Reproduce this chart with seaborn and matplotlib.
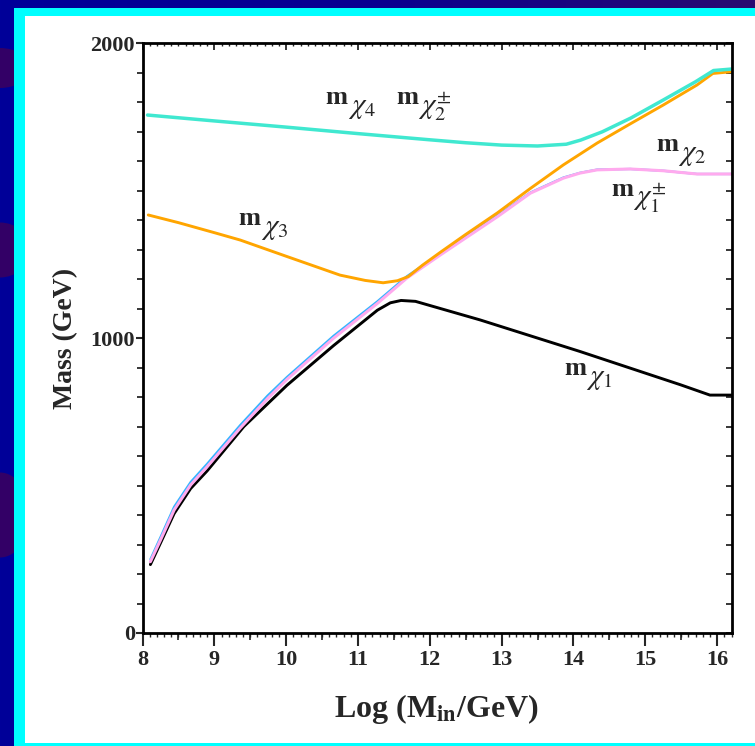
import numpy as np
import pandas as pd
import matplotlib
matplotlib.use("Agg")
import matplotlib.pyplot as plt
from matplotlib.patches import Rectangle, Ellipse
from matplotlib.ticker import MultipleLocator, FixedLocator, NullFormatter
from matplotlib.transforms import ScaledTranslation
from matplotlib.colors import LinearSegmentedColormap
import seaborn as sns

sns.set_style("white")
plt.rcParams['font.family'] = ['Liberation Serif', 'DejaVu Serif']
plt.rcParams['mathtext.fontset'] = 'stix'

# ---------------- data ----------------
x_chi4 = [8.07, 9.0, 10.0, 11.0, 12.0, 12.5, 13.0, 13.5, 13.9, 14.1, 14.4, 14.8, 15.25, 15.7, 15.95, 16.2]
m_chi4 = [1757, 1737, 1716, 1694, 1673, 1663, 1655, 1652, 1658, 1672, 1700, 1747, 1808, 1870, 1908, 1913]

x_chi3 = [8.08, 8.5, 9.0, 9.36, 10.0, 10.75, 11.1, 11.35, 11.55, 11.7, 11.9, 12.15, 12.5, 12.94,
          13.4, 13.86, 14.33, 14.79, 15.25, 15.72, 15.94, 16.2]
m_chi3 = [1418, 1392, 1358, 1333, 1278, 1214, 1196, 1188, 1195, 1209, 1248, 1292, 1352, 1425,
          1508, 1588, 1662, 1727, 1791, 1859, 1898, 1904]

x_chi2 = [8.11, 8.25, 8.44, 8.67, 8.9, 9.36, 9.74, 10.01, 10.66, 11.27, 11.68, 12.15, 12.94,
          13.4, 13.86, 14.09, 14.33, 14.79, 15.25, 15.72, 15.95, 16.2]
m_chi2 = [250, 325, 428, 512, 574, 705, 805, 868, 1008, 1125, 1210, 1288, 1416,
          1494, 1545, 1561, 1572, 1574, 1568, 1557, 1557, 1557]
m_chi1pm = [242, 315, 417, 502, 564, 695, 795, 860, 1000, 1118, 1204, 1283, 1412,
            1492, 1543, 1560, 1571, 1574, 1568, 1557, 1557, 1557]

x_chi1 = [8.11, 8.25, 8.44, 8.67, 8.9, 9.41, 10.01, 10.66, 11.27, 11.45, 11.6, 11.8,
          12.7, 14.09, 15.49, 15.9, 16.2]
m_chi1 = [232, 305, 405, 490, 550, 700, 840, 975, 1095, 1120, 1128, 1125,
          1062, 955, 842, 807, 807]

x_ticks = [8, 9, 10, 11, 12, 13, 14, 15, 16]
y_ticks = [0, 1000, 2000]

# ---------------- figure & background ----------------
W, H = 755, 746
fig = plt.figure(figsize=(W / 100, H / 100), dpi=100)
bg = fig.add_axes([0, 0, 1, 1], zorder=-10)
bg.set_xlim(0, W)
bg.set_ylim(H, 0)
bg.axis('off')
grad = np.linspace(0, 1, 256)[None, :]
cm = LinearSegmentedColormap.from_list('bgc', ['#000099', '#0a0090', '#2a0a70'])
bg.imshow(grad, cmap=cm, extent=[0, W, H, 0], aspect='auto')
for (cy, hh) in [(68, 40), (250, 55), (515, 85)]:
    bg.add_patch(Ellipse((0, cy), 60, hh, color='#330066', lw=0))
bg.add_patch(Rectangle((14, 8), W, H, color='#00FFFF', lw=0))
bg.add_patch(Rectangle((25, 16), W, 727, color='white', lw=0))

# ---------------- main axes ----------------
x0, x1 = 142.5, 731.5
y0, y1 = 633.0, 43.4
ax = fig.add_axes([x0 / W, 1 - y0 / H, (x1 - x0) / W, (y0 - y1) / H])
ax.set_facecolor('none')

sns.lineplot(x=x_chi1, y=m_chi1, ax=ax, color='black', lw=2.1, sort=False, estimator=None)
sns.lineplot(x=x_chi2, y=m_chi2, ax=ax, color='#33B5FF', lw=1.6, sort=False, estimator=None)
sns.lineplot(x=x_chi2, y=m_chi1pm, ax=ax, color='#FFAAEE', lw=2.2, sort=False, estimator=None)
sns.lineplot(x=x_chi3, y=m_chi3, ax=ax, color='#FFA500', lw=2.1, sort=False, estimator=None)
sns.lineplot(x=x_chi4, y=m_chi4, ax=ax, color='#40E8D0', lw=2.5, sort=False, estimator=None)

ax.set_xlim(8, 16.2)
ax.set_ylim(0, 2000)

for s in ax.spines.values():
    s.set_linewidth(2.0)
    s.set_color('black')

ax.xaxis.set_major_locator(FixedLocator(x_ticks))
ax.xaxis.set_minor_locator(MultipleLocator(0.1))
ax.yaxis.set_major_locator(FixedLocator(y_ticks))
ax.yaxis.set_minor_locator(MultipleLocator(100))
ax.tick_params(axis='x', which='major', direction='out', length=9, width=1.5, pad=3,
               labelsize=16, bottom=True, top=False)
ax.tick_params(axis='x', which='minor', direction='out', length=2.6, width=1.0, bottom=True, top=False)
ax.tick_params(axis='y', which='major', direction='out', length=5, width=1.5, pad=0.5,
               labelsize=16, left=True, right=False)
ax.tick_params(axis='y', which='minor', direction='out', length=4.5, width=1.3, left=True, right=False)
for lab in ax.get_xticklabels() + ax.get_yticklabels():
    lab.set_fontweight('bold')

# half-unit ticks on bottom
sb = ax.secondary_xaxis('bottom')
sb.xaxis.set_major_locator(FixedLocator(np.arange(8.5, 16.2, 1.0)))
sb.xaxis.set_major_formatter(NullFormatter())
sb.tick_params(direction='out', length=5, width=1.2)
sb.spines['bottom'].set_visible(False)

# top / right inward ticks
st = ax.secondary_xaxis('top')
st.xaxis.set_major_locator(FixedLocator(x_ticks))
st.xaxis.set_minor_locator(MultipleLocator(0.1))
st.xaxis.set_major_formatter(NullFormatter())
st.tick_params(which='major', direction='in', length=5, width=1.3)
st.tick_params(which='minor', direction='in', length=2.5, width=1.0)
st.spines['top'].set_visible(False)

sr = ax.secondary_yaxis('right')
sr.yaxis.set_major_locator(MultipleLocator(100))
sr.yaxis.set_major_formatter(NullFormatter())
sr.tick_params(which='major', direction='in', length=4.5, width=1.3)
sr.spines['right'].set_visible(False)

ax.set_ylabel('Mass (GeV)', fontsize=20, fontweight='bold', labelpad=9)
ax.set_xlabel(r'Log (M$_{\mathbf{in}}$/GeV)', fontsize=23, fontweight='bold', labelpad=16)


# ---------------- curve labels ----------------
def off(dx, dy):
    return ax.transData + ScaledTranslation(dx / 100, -dy / 100, fig.dpi_scale_trans)


def mlabel(x, y, chi):
    ax.text(x, y, 'm', fontsize=19, fontweight='bold', ha='left', va='baseline',
            transform=ax.transData)
    ax.text(x, y, chi, fontsize=21, ha='left', va='baseline', transform=off(22, 9))


mlabel(10.55, 1795, r'$\chi_4$')
mlabel(11.53, 1795, r'$\chi_2^{\pm}$')
mlabel(9.34, 1385, r'$\chi_3$')
mlabel(15.15, 1636, r'$\chi_2$')
mlabel(14.52, 1483, r'$\chi_1^{\pm}$')
mlabel(13.87, 876, r'$\chi_1$')

fig.savefig('out.png', dpi=100)
